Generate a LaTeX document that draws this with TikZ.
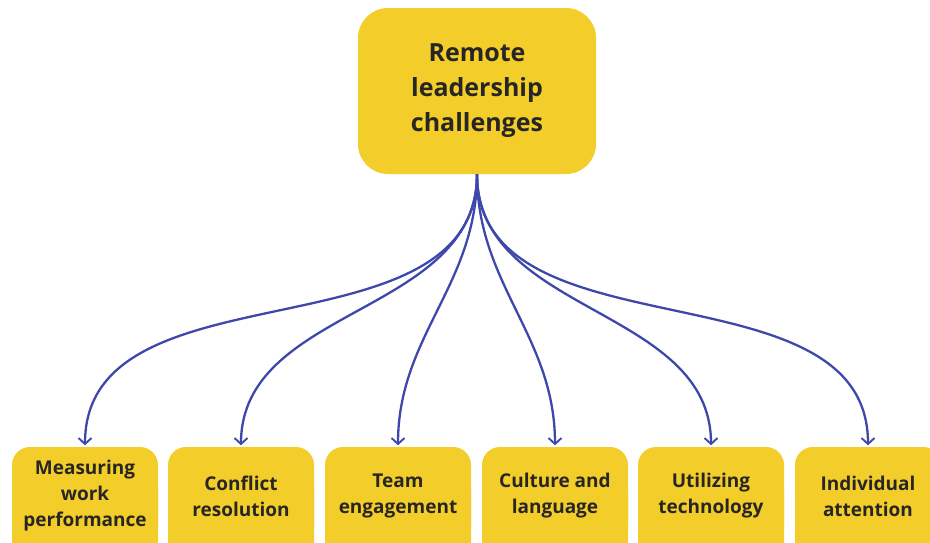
\documentclass[tikz,border=0pt]{standalone}
\usepackage{fontspec}
\setmainfont{Open Sans}
\usetikzlibrary{arrows.meta}

\definecolor{boxyellow}{RGB}{243,205,42}
\definecolor{linkblue}{RGB}{62,72,170}
\definecolor{textdark}{RGB}{40,38,36}

\tikzset{
  topbox/.style={fill=boxyellow, rounded corners=30pt, minimum width=238pt, minimum height=166pt,
    align=center, text=textdark, font=\fontsize{25}{35}\selectfont\bfseries},
  % leaf boxes run on below the bottom edge, so fill a shifted copy first
  leafbox/.style={fill=boxyellow, rounded corners=18pt, minimum width=146pt, minimum height=98pt,
    preaction={fill=boxyellow, transform canvas={yshift=-24pt}},
    align=center, text=textdark, font=\fontsize{19}{26}\selectfont\bfseries},
  link/.style={draw=linkblue, line width=2.3pt, -{Straight Barb[length=6pt,width=13pt,line width=1.9pt]},
    shorten >=1.5pt}
}

\begin{document}
\begin{tikzpicture}[x=1pt,y=-1pt]
\useasboundingbox (0,0) rectangle (930,542);

\node [topbox] (remote) at (477,91) {Remote\\leadership\\challenges};

\node [leafbox] (measure) at (85,496) {Measuring\\work\\performance};
\node [leafbox] (conflict) at (241,496) {Conflict\\resolution};
\node [leafbox] (team) at (398,496) {Team\\engagement};
\node [leafbox] (culture) at (555,496) {Culture and\\language};
\node [leafbox] (tech) at (711,496) {Utilizing\\technology};
\node [leafbox] (attention) at (868,496) {Individual\\attention};

\draw [link] (remote.south) to[out=-90, in=90] (measure.north);
\draw [link] (remote.south) to[out=-90, in=90] (conflict.north);
\draw [link] (remote.south) to[out=-90, in=90] (team.north);
\draw [link] (remote.south) to[out=-90, in=90] (culture.north);
\draw [link] (remote.south) to[out=-90, in=90] (tech.north);
\draw [link] (remote.south) to[out=-90, in=90] (attention.north);
\end{tikzpicture}
\end{document}
